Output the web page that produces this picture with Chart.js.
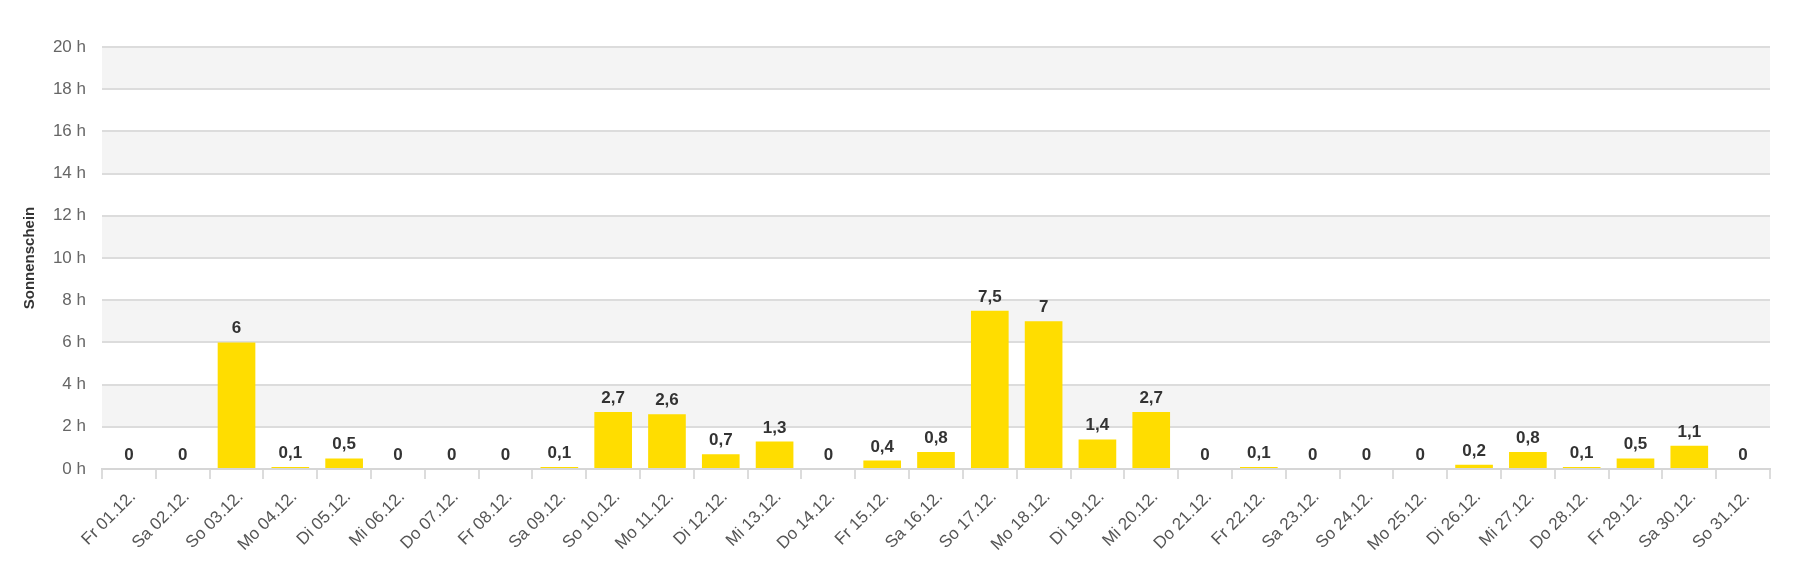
<!DOCTYPE html>
<html>
<head>
<meta charset="utf-8">
<script src="https://cdn.jsdelivr.net/npm/chart.js@4.4.0/dist/chart.umd.min.js"></script>
<style>
  html, body { margin: 0; padding: 0; background: #fff; }
  #wrap { width: 1800px; height: 579px; }
</style>
</head>
<body>
<div id="wrap"><canvas id="mainChart" width="1800" height="579"></canvas></div>
<script>
const days = [
    'Fr 01.12.', 'Sa 02.12.', 'So 03.12.', 'Mo 04.12.', 'Di 05.12.', 'Mi 06.12.', 'Do 07.12.',
    'Fr 08.12.', 'Sa 09.12.', 'So 10.12.', 'Mo 11.12.', 'Di 12.12.', 'Mi 13.12.', 'Do 14.12.',
    'Fr 15.12.', 'Sa 16.12.', 'So 17.12.', 'Mo 18.12.', 'Di 19.12.', 'Mi 20.12.', 'Do 21.12.',
    'Fr 22.12.', 'Sa 23.12.', 'So 24.12.', 'Mo 25.12.', 'Di 26.12.', 'Mi 27.12.', 'Do 28.12.',
    'Fr 29.12.', 'Sa 30.12.', 'So 31.12.'
];
const sunHours = [
    0, 0, 6, 0.1, 0.5, 0, 0,
    0, 0.1, 2.7, 2.6, 0.7, 1.3, 0,
    0.4, 0.8, 7.5, 7, 1.4, 2.7, 0,
    0.1, 0, 0, 0, 0.2, 0.8, 0.1,
    0.5, 1.1, 0
];
const yMin = 0;
const yMax = 20;
const yStep = 2;

const fontFam = 'Arial, "Liberation Sans", sans-serif';

// grey bands between every other pair of grid lines
const bandPlugin = {
    id: 'bands',
    beforeDraw(c) {
        const y = c.scales.y, area = c.chartArea, ctx = c.ctx;
        ctx.save();
        ctx.fillStyle = '#f4f4f4';
        for (let v = yMin + yStep; v < yMax; v += yStep * 2) {
            const top = y.getPixelForValue(v + yStep);
            const bot = y.getPixelForValue(v);
            ctx.fillRect(area.left, top, area.right - area.left, bot - top);
        }
        ctx.restore();
    }
};

// value labels above the bars
const labelPlugin = {
    id: 'valueLabels',
    afterDatasetsDraw(c) {
        const ctx = c.ctx;
        const meta = c.getDatasetMeta(0);
        ctx.save();
        ctx.font = 'bold 17px ' + fontFam;
        ctx.fillStyle = '#333';
        ctx.textAlign = 'center';
        ctx.textBaseline = 'alphabetic';
        meta.data.forEach((bar, i) => {
            const txt = String(sunHours[i]).replace('.', ',');
            ctx.fillText(txt, bar.x, bar.y - 9);
        });
        ctx.restore();
    }
};

const ctx = document.getElementById('mainChart').getContext('2d');
const chart = new Chart(ctx, {
    type: 'bar',
    data: {
        labels: days,
        datasets: [{
            label: 'Sonnenschein',
            data: sunHours,
            backgroundColor: '#ffdd00',
            borderWidth: 0,
            barPercentage: 0.7,
            categoryPercentage: 1
        }]
    },
    options: {
        responsive: false,
        animation: false,
        layout: { padding: { top: 47, right: 30, left: 0, bottom: 0 } },
        plugins: {
            legend: { display: false },
            tooltip: { enabled: false }
        },
        scales: {
            x: {
                afterFit: s => { s.height = 110; },
                grid: {
                    offset: true,
                    drawOnChartArea: false,
                    drawTicks: true,
                    tickLength: 10,
                    color: '#dcdcdc',
                    lineWidth: 2
                },
                border: { color: '#d6d6d6', width: 2 },
                ticks: {
                    minRotation: 45,
                    maxRotation: 45,
                    autoSkip: false,
                    padding: 8,
                    labelOffset: 4,
                    color: '#555',
                    font: { family: fontFam, size: 17 }
                }
            },
            y: {
                min: yMin,
                max: yMax,
                afterFit: s => { s.width = 102; },
                grid: { color: '#dcdcdc', lineWidth: 2, drawTicks: false },
                border: { display: false },
                ticks: {
                    stepSize: yStep,
                    padding: 16,
                    color: '#666',
                    font: { family: fontFam, size: 17 },
                    callback: v => v + ' h'
                },
                title: {
                    display: true,
                    text: 'Sonnenschein',
                    color: '#333',
                    font: { family: fontFam, size: 15, weight: 'bold' },
                    padding: { top: 21, bottom: 0 }
                }
            }
        }
    },
    plugins: [bandPlugin, labelPlugin]
});
</script>
</body>
</html>
